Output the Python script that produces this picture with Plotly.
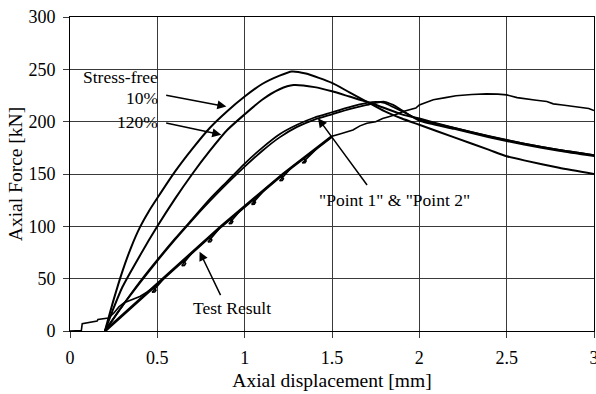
import plotly.graph_objects as go

# ---------------- data ----------------
x_sf = [0.2, 0.25, 0.3, 0.35, 0.4, 0.45, 0.5, 0.6, 0.7, 0.8, 0.9, 1.0, 1.1, 1.2, 1.27,
        1.35, 1.5, 1.6, 1.7, 1.8, 1.9, 2.0, 2.2, 2.4, 2.5, 2.6, 2.8, 3.0]
y_sf = [0, 30, 57, 80, 99, 114, 127, 152, 174, 194, 210, 224, 236, 244, 248,
        246, 237, 228, 219, 210, 203, 197, 185, 173, 167, 163, 156, 150]

x_10 = [0.2, 0.25, 0.3, 0.4, 0.5, 0.6, 0.7, 0.8, 0.9, 1.0, 1.1, 1.2, 1.28, 1.4, 1.5,
        1.6, 1.7, 1.8, 1.9, 2.0, 2.2, 2.4, 2.6, 2.8, 3.0]
y_10 = [0, 22, 42, 72, 100, 126, 150, 172, 192, 207, 221, 231, 235, 233, 229,
        224, 219, 213, 207, 203, 194, 186, 179, 173, 168]

x_pt = [0.2, 0.3, 0.4, 0.5, 0.6, 0.7, 0.8, 0.9, 1.0, 1.1, 1.2, 1.3, 1.4, 1.5, 1.6,
        1.7, 1.75, 1.8, 1.85, 1.9, 2.0, 2.2, 2.4, 2.6, 2.8, 3.0]
y_pt1 = [0, 24, 47, 68, 88, 107, 126, 143, 160, 175, 188, 197, 204, 209, 214,
         218, 219, 218, 214, 210, 202, 194, 186, 179, 173, 168]
y_pt2 = [0, 24, 46, 67, 87, 106, 124, 141, 157, 172, 185, 195, 202, 207, 212,
         216, 218, 219, 216, 211, 201, 193, 185, 178, 172, 167]

x_lin = [0.2, 0.5, 0.866, 1.22, 1.5]
y_lin = [0, 45, 100, 150, 186]

x_test = [0, 0.065, 0.07, 0.12, 0.155, 0.16, 0.2, 0.22, 0.25, 0.28, 0.31, 0.35, 0.40, 0.44,
          0.47, 0.485, 0.492, 0.485, 0.47, 0.55,
          0.64, 0.655, 0.662, 0.655, 0.64, 0.70,
          0.79, 0.805, 0.812, 0.805, 0.79, 0.866,
          0.91, 0.925, 0.932, 0.925, 0.91, 0.98,
          1.04, 1.055, 1.062, 1.055, 1.04, 1.12,
          1.2, 1.215, 1.222, 1.215, 1.2, 1.27,
          1.33, 1.345, 1.352, 1.345, 1.33, 1.42, 1.5,
          1.55, 1.583, 1.62, 1.66, 1.70, 1.75, 1.79, 1.83, 1.87, 1.907, 1.95, 1.98,
          2.0, 2.03, 2.08, 2.15, 2.21, 2.3, 2.385, 2.45, 2.5, 2.56, 2.614, 2.67,
          2.73, 2.75, 2.767, 2.82, 2.88, 2.94, 2.97, 3.0]
y_test = [0, 0.5, 7, 8.5, 9.5, 11, 12, 12.5, 17, 23, 27, 30, 33, 37,
          40.5, 40.8, 39, 37.2, 37, 52.5,
          66, 66.3, 64.5, 62.7, 62.5, 75,
          88.5, 88.8, 87, 85.2, 85, 100,
          106, 106.3, 104.5, 102.7, 102.5, 116,
          124.5, 124.8, 123, 121.2, 121, 136,
          147, 147.3, 145.5, 143.7, 143.5, 156.5,
          164, 164.3, 162.5, 160.7, 160.5, 175.5, 186,
          188.5, 190.5, 192, 196, 198.5, 200, 203, 205, 207, 209.7, 212, 213,
          216, 218, 221, 223, 224.7, 226, 226.6, 226.3, 225.6, 223, 221.5, 220.5,
          219.2, 218, 217, 216, 214.5, 213, 212.5, 210.6]

x_ticks = [0, 0.5, 1, 1.5, 2, 2.5, 3]
x_ticktext = ["0", "0.5", "1", "1.5", "2", "2.5", "3"]
y_ticks = [0, 50, 100, 150, 200, 250, 300]

# ---------------- figure ----------------
fig = go.Figure()


def add(x, y, w, shape="spline"):
    fig.add_trace(go.Scatter(
        x=x, y=y, mode="lines",
        line=dict(color="black", width=w, shape=shape, smoothing=0.6),
        showlegend=False, hoverinfo="skip"))


add(x_sf, y_sf, 2)
add(x_10, y_10, 2)
add(x_pt, y_pt1, 1.8)
add(x_pt, y_pt2, 1.8)
add(x_lin, y_lin, 2.8, "linear")
add(x_test, y_test, 1.6, "linear")

SERIF = "Liberation Serif, Times New Roman, serif"
ann_font = dict(family=SERIF, size=17.5, color="black")


def label(x, y, text, xanchor="center"):
    fig.add_annotation(x=x, y=y, xref="x", yref="y", text=text, showarrow=False,
                       xanchor=xanchor, yanchor="middle", font=ann_font)


def arrow(x_head, y_head, x_tail, y_tail):
    fig.add_annotation(x=x_head, y=y_head, ax=x_tail, ay=y_tail, xref="x", yref="y",
                       axref="x", ayref="y", text="", showarrow=True,
                       arrowhead=2, arrowsize=1.2, arrowwidth=1.5, arrowcolor="black")


label(0.513, 243, "Stress-free", "right")
label(0.513, 222.5, "10%", "right")
label(0.513, 200, "120%", "right")
arrow(0.895, 214.4, 0.542, 225.6)
arrow(0.866, 187.4, 0.542, 199.1)

label(1.86, 125.2, "\"Point 1\" &amp; \"Point 2\"")
arrow(1.42, 203.3, 1.707, 138)

label(0.928, 22, "Test Result")
arrow(0.742, 75.8, 0.866, 32.8)

axis_common = dict(
    showgrid=True, gridcolor="#3a3a3a", gridwidth=1,
    ticks="outside", ticklen=6, tickcolor="#3a3a3a", tickwidth=1,
    showline=True, linecolor="black", linewidth=1, mirror=True,
    zeroline=False, automargin=False,
    tickfont=dict(family=SERIF, size=18, color="black"),
)

fig.update_layout(
    width=596, height=394,
    margin=dict(l=70, r=2, t=17, b=63),
    paper_bgcolor="white", plot_bgcolor="white",
    xaxis=dict(range=[0, 3], tickvals=x_ticks, ticktext=x_ticktext,
               title=dict(text="Axial displacement [mm]",
                          font=dict(family=SERIF, size=19.5, color="black"),
                          standoff=6),
               ticklabelstandoff=4, ticklabeloverflow="allow",
               **axis_common),
    yaxis=dict(range=[0, 300], tickvals=y_ticks,
               title=dict(text="Axial Force [kN]",
                          font=dict(family=SERIF, size=19.5, color="black"),
                          standoff=0),
               ticklabelstandoff=4,
               **axis_common),
)

fig.write_html("out.html")
